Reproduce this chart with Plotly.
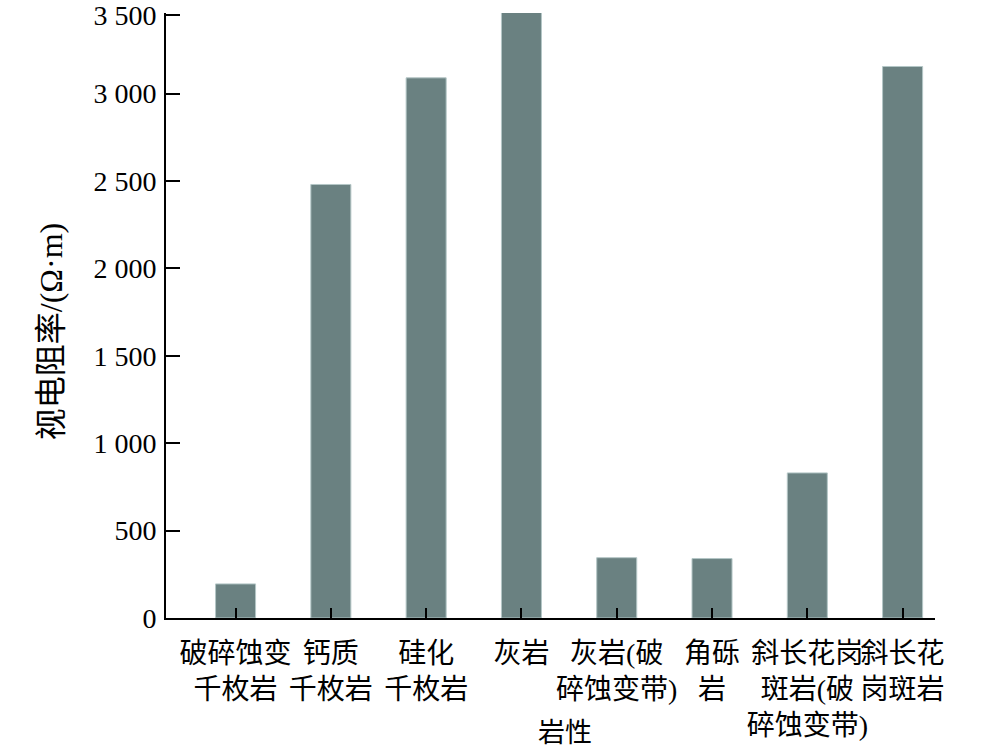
import plotly.graph_objects as go

categories = [
    "破碎蚀变<br>千枚岩",
    "钙质<br>千枚岩",
    "硅化<br>千枚岩",
    "灰岩",
    "灰岩(破<br>碎蚀变带)",
    "角砾<br>岩",
    "斜长花岗<br>斑岩(破<br>碎蚀变带)",
    "斜长花<br>岗斑岩",
]
resistivity = [195, 2480, 3090, 3490, 345, 340, 830, 3155]

y_tick_values = [0, 500, 1000, 1500, 2000, 2500, 3000, 3450]
y_tick_labels = ["0", "500", "1 000", "1 500", "2 000", "2 500", "3 000", "3 500"]

x_title = "岩性"
y_title = "视电阻率/(Ω·m)"

FONT = "Liberation Serif, Noto Sans CJK SC, serif"

fig = go.Figure(
    go.Bar(
        x=list(range(len(categories))),
        y=resistivity,
        width=0.42,
        marker=dict(color="#6a8181", line=dict(color="#b4c6c6", width=1)),
        cliponaxis=False,
    )
)

fig.update_layout(
    width=1000,
    height=750,
    margin=dict(l=166, r=65, t=13, b=132, autoexpand=False),
    paper_bgcolor="white",
    plot_bgcolor="white",
    showlegend=False,
    font=dict(family=FONT, color="black"),
    xaxis=dict(
        range=[-0.73, 7.34],
        tickmode="array",
        tickvals=list(range(len(categories))),
        ticktext=categories,
        tickangle=0,
        automargin=False,
        ticks="inside",
        ticklen=10,
        tickwidth=2,
        tickcolor="black",
        showline=True,
        linecolor="black",
        linewidth=2,
        showgrid=False,
        zeroline=False,
        tickfont=dict(family=FONT, size=28, color="black"),
        ticklabelstandoff=9,
    ),
    yaxis=dict(
        range=[0, 3461],
        tickmode="array",
        tickvals=y_tick_values,
        ticktext=y_tick_labels,
        automargin=False,
        ticks="inside",
        ticklen=14,
        tickwidth=2,
        tickcolor="black",
        showline=True,
        linecolor="black",
        linewidth=2,
        showgrid=False,
        zeroline=False,
        tickfont=dict(family=FONT, size=28, color="black"),
        ticklabelstandoff=2,
        ticklabeloverflow="allow",
    ),
    annotations=[
        dict(
            text=x_title, xref="paper", yref="paper", x=0.519, y=-0.19,
            xanchor="center", yanchor="middle", showarrow=False,
            font=dict(family=FONT, size=27, color="black"),
        ),
        dict(
            text=y_title, xref="paper", yref="paper", x=-0.1495, y=0.474,
            xanchor="center", yanchor="middle", showarrow=False, textangle=-90,
            font=dict(family=FONT, size=32, color="black"),
        ),
    ],
)

fig.write_html(
    "out.html",
    config={"displayModeBar": False},
    post_script="document.body.style.margin='0';",
)
